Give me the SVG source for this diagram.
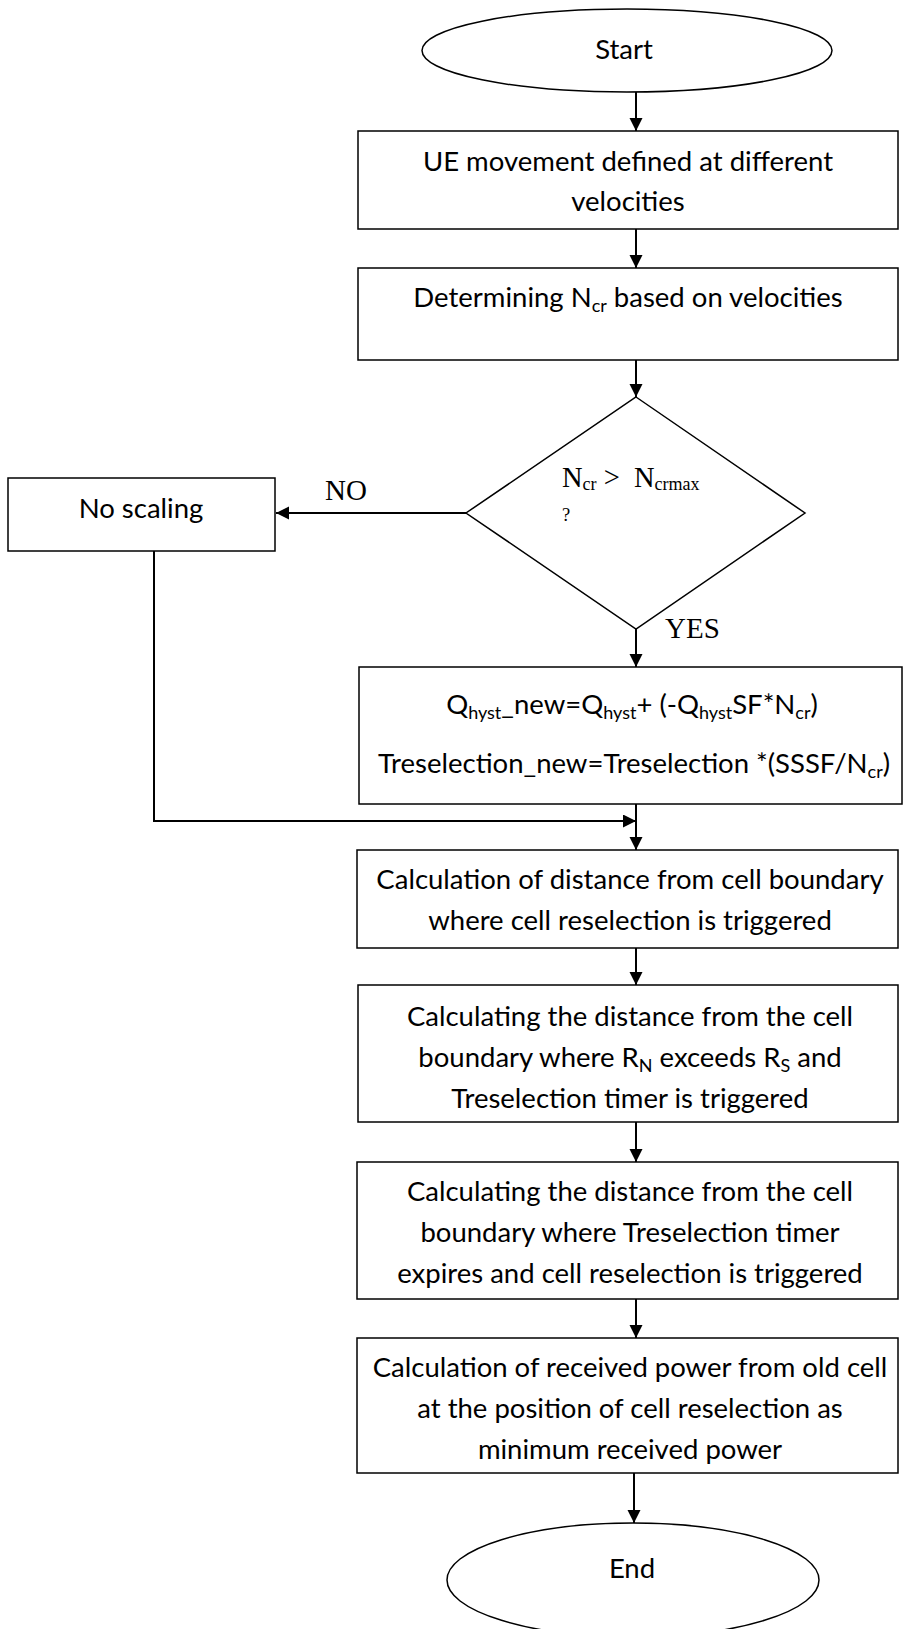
<svg xmlns="http://www.w3.org/2000/svg" width="904" height="1629" viewBox="0 0 904 1629">
<style>
.box{fill:#fff;stroke:#000;stroke-width:1.5}
.term{fill:#fff;stroke:#000;stroke-width:1.5}
.t{font-family:Lato,"Open Sans","Liberation Sans",sans-serif;font-size:27.5px;fill:#000;text-anchor:middle}
.s{font-size:18px}
.tm{font-family:"Liberation Serif","Times New Roman",serif;fill:#000}
.c{fill:none;stroke:#000;stroke-width:2}
</style>
<defs>
<marker id="ah" markerUnits="userSpaceOnUse" markerWidth="14" markerHeight="14" refX="13" refY="6.5" orient="auto">
<path d="M0,0 L13,6.5 L0,13 z" fill="#000"/>
</marker>
</defs>
<g id="connectors">
<line class="c" x1="636" y1="92" x2="636" y2="131" marker-end="url(#ah)"/>
<line class="c" x1="636" y1="229" x2="636" y2="268" marker-end="url(#ah)"/>
<line class="c" x1="636" y1="360" x2="636" y2="397" marker-end="url(#ah)"/>
<line class="c" x1="466" y1="513" x2="276" y2="513" marker-end="url(#ah)"/>
<line class="c" x1="636" y1="629" x2="636" y2="667" marker-end="url(#ah)"/>
<polyline class="c" points="154,551 154,821 636,821" marker-end="url(#ah)"/>
<line class="c" x1="636" y1="804" x2="636" y2="850" marker-end="url(#ah)"/>
<line class="c" x1="636" y1="948" x2="636" y2="985" marker-end="url(#ah)"/>
<line class="c" x1="636" y1="1122" x2="636" y2="1162" marker-end="url(#ah)"/>
<line class="c" x1="636" y1="1299" x2="636" y2="1338" marker-end="url(#ah)"/>
<line class="c" x1="634" y1="1473" x2="634" y2="1523" marker-end="url(#ah)"/>
<text class="tm" x="325" y="500" font-size="29">NO</text>
<text class="tm" x="665" y="638" font-size="29">YES</text>
</g>
<g id="start">
<ellipse class="term" cx="627" cy="50.5" rx="205" ry="41.5"/>
<text class="t" x="624" y="59">Start</text>
</g>
<g id="ue-movement">
<rect class="box" x="358" y="131" width="540" height="98"/>
<text class="t" x="628" y="171">UE movement defined at different</text>
<text class="t" x="628" y="211">velocities</text>
</g>
<g id="determine-ncr">
<rect class="box" x="358" y="268" width="540" height="92"/>
<text class="t" x="628" y="307">Determining N<tspan class="s" dy="5">cr</tspan><tspan dy="-5"> based on velocities</tspan></text>
</g>
<g id="decision">
<polygon class="box" points="636,397 805,513 636,629 466,513"/>
<text class="tm" x="562" y="487" font-size="28.5">N<tspan font-size="18" dy="3">cr</tspan><tspan dy="-3" xml:space="preserve"> &gt;  N</tspan><tspan font-size="18" dy="3">crmax</tspan></text>
<text class="tm" x="562" y="521" font-size="18.5">?</text>
</g>
<g id="no-scaling">
<rect class="box" x="8" y="478" width="267" height="73"/>
<text class="t" x="141" y="518">No scaling</text>
</g>
<g id="scaling">
<rect class="box" x="359" y="667" width="543" height="137"/>
<text class="t" x="632" y="714">Q<tspan class="s" dy="5">hyst</tspan><tspan dy="-5">_new=Q</tspan><tspan class="s" dy="5">hyst</tspan><tspan dy="-5">+ (-Q</tspan><tspan class="s" dy="5">hyst</tspan><tspan dy="-5">SF*N</tspan><tspan class="s" dy="5">cr</tspan><tspan dy="-5">)</tspan></text>
<text class="t" x="634" y="773">Treselection_new=Treselection *(SSSF/N<tspan class="s" dy="5">cr</tspan><tspan dy="-5">)</tspan></text>
</g>
<g id="calc-distance">
<rect class="box" x="357" y="850" width="541" height="98"/>
<text class="t" x="630" y="889">Calculation of distance from cell boundary</text>
<text class="t" x="630" y="930">where cell reselection is triggered</text>
</g>
<g id="calc-rn-rs">
<rect class="box" x="358" y="985" width="540" height="137"/>
<text class="t" x="630" y="1026">Calculating the distance from the cell</text>
<text class="t" x="630" y="1067">boundary where R<tspan class="s" dy="5">N</tspan><tspan dy="-5"> exceeds R</tspan><tspan class="s" dy="5">S</tspan><tspan dy="-5"> and</tspan></text>
<text class="t" x="630" y="1108">Treselection timer is triggered</text>
</g>
<g id="calc-expire">
<rect class="box" x="357" y="1162" width="541" height="137"/>
<text class="t" x="630" y="1201">Calculating the distance from the cell</text>
<text class="t" x="630" y="1242">boundary where Treselection timer</text>
<text class="t" x="630" y="1283">expires and cell reselection is triggered</text>
</g>
<g id="calc-power">
<rect class="box" x="357" y="1338" width="541" height="135"/>
<text class="t" x="630" y="1377">Calculation of received power from old cell</text>
<text class="t" x="630" y="1418">at the position of cell reselection as</text>
<text class="t" x="630" y="1459">minimum received power</text>
</g>
<g id="end">
<ellipse class="term" cx="633" cy="1580" rx="186" ry="57"/>
<text class="t" x="632" y="1578">End</text>
</g>
</svg>
